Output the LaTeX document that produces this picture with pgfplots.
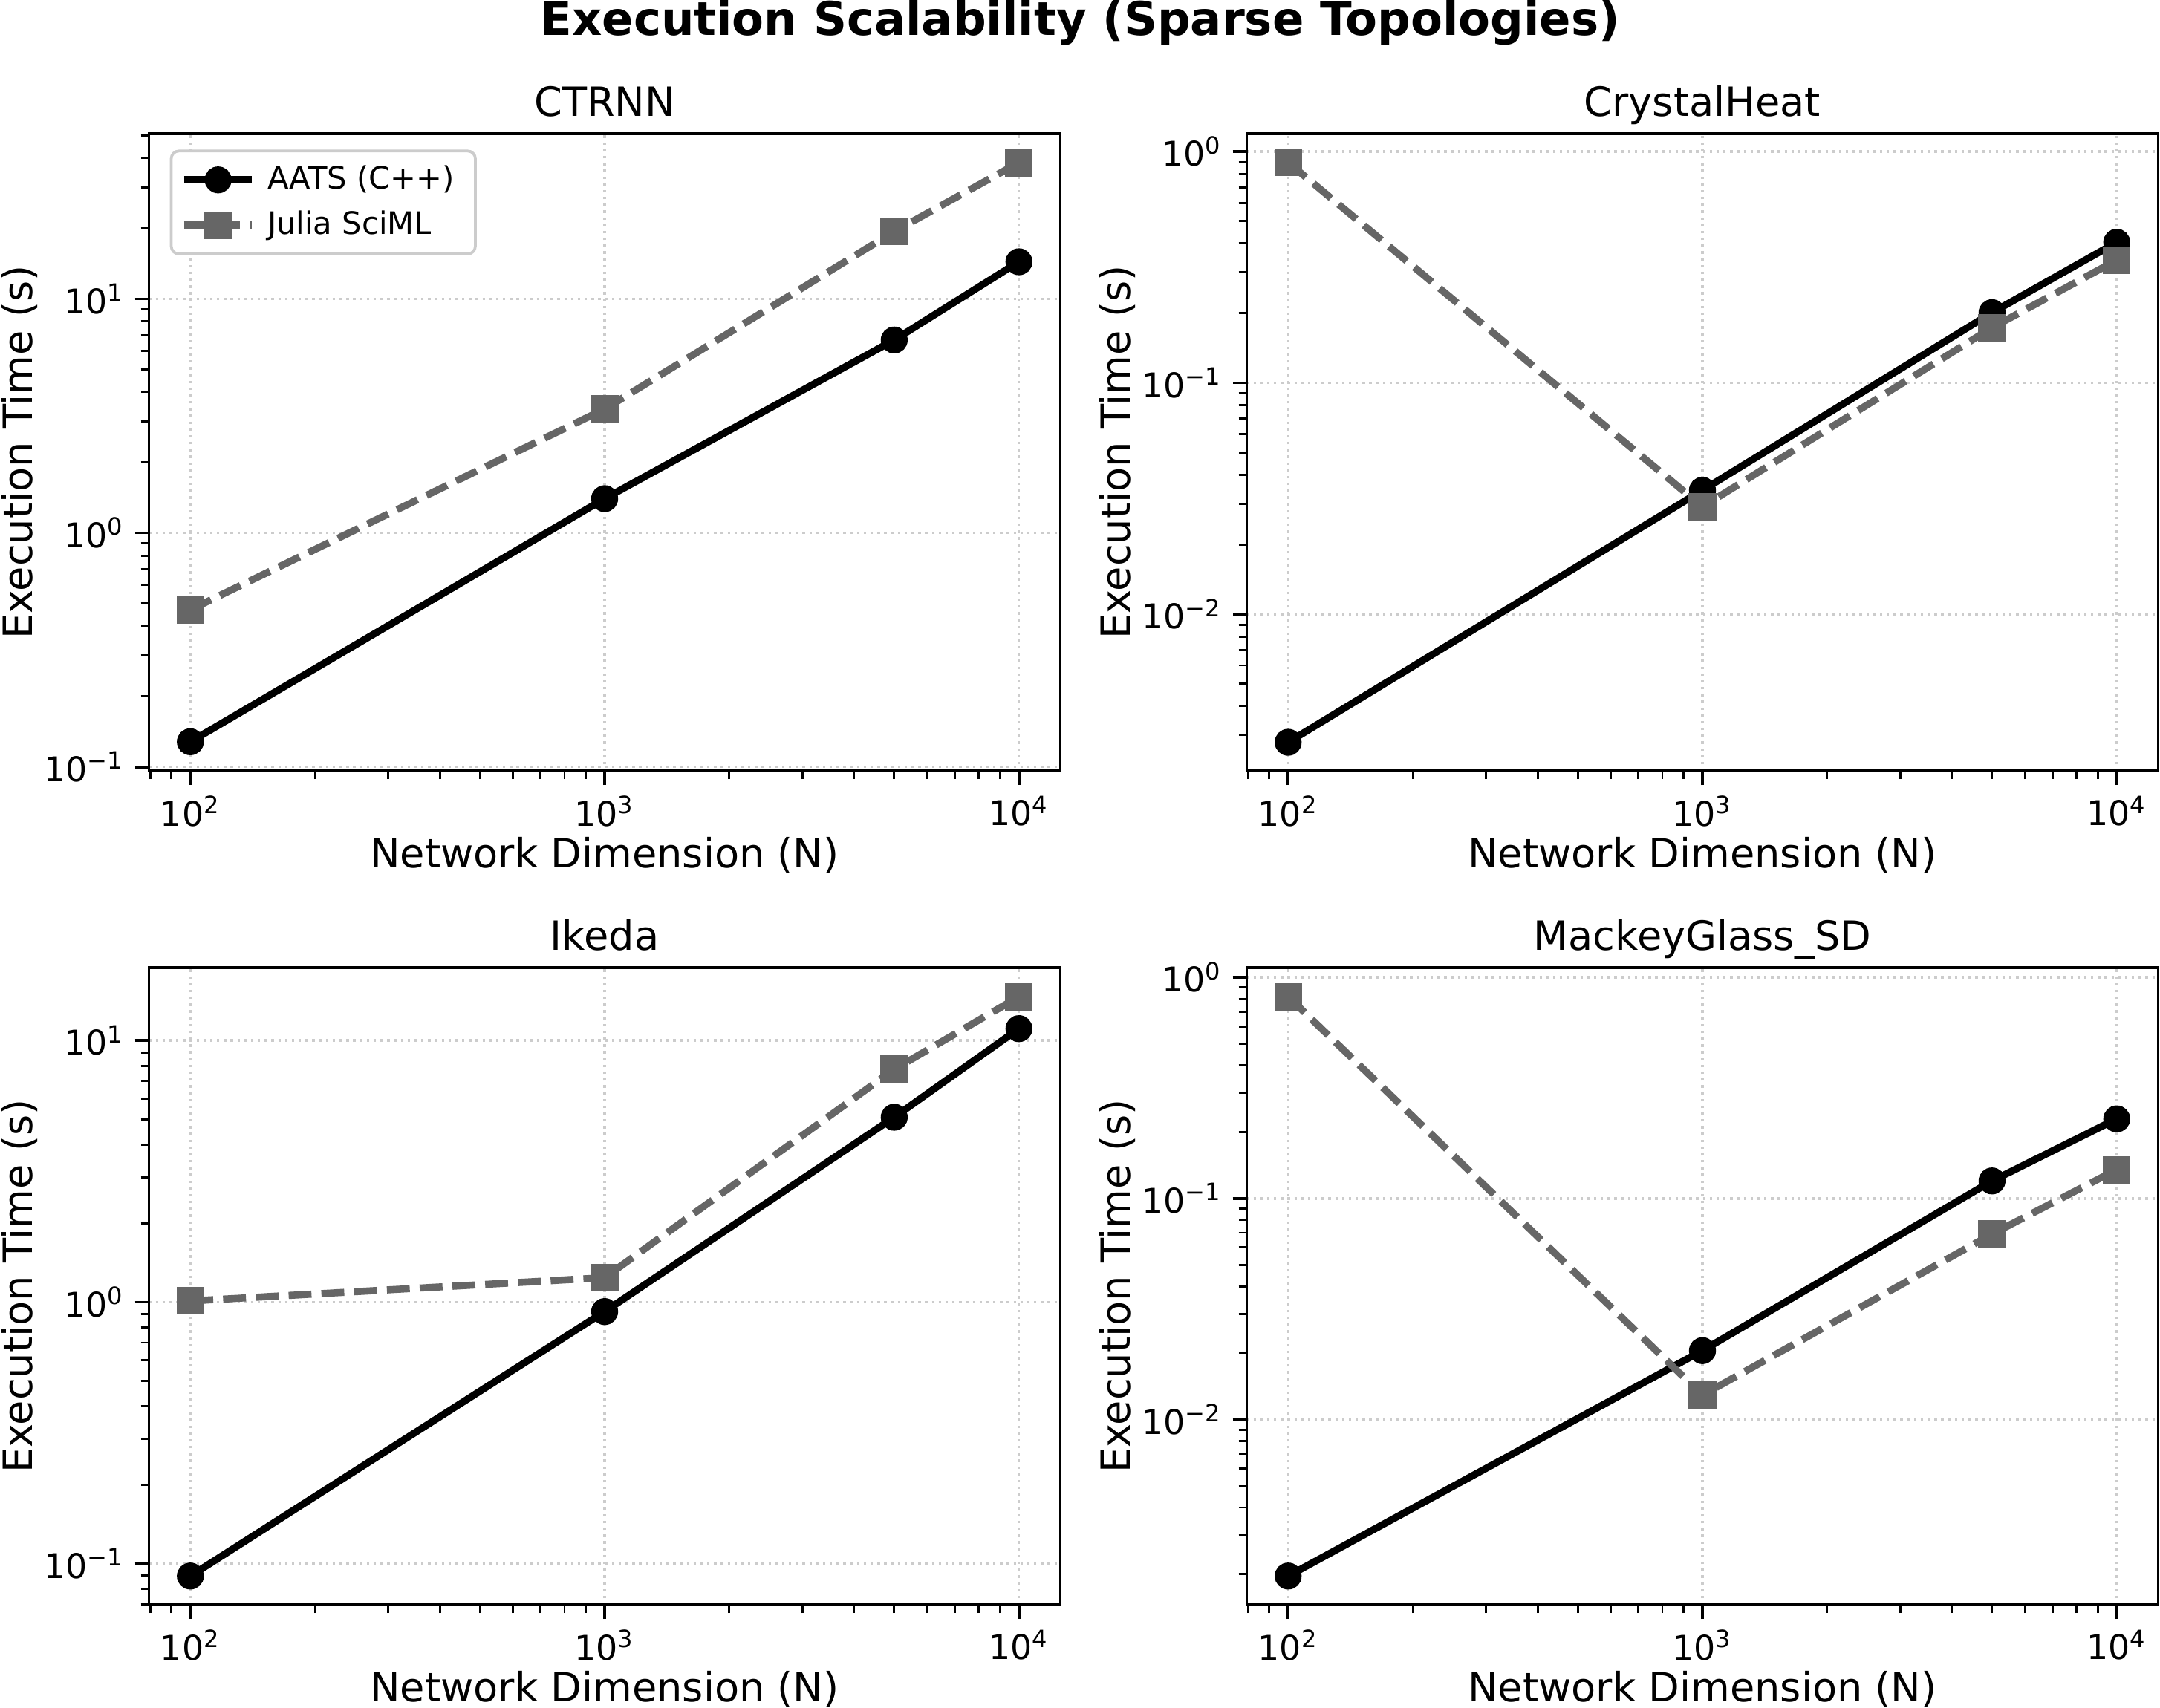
\documentclass[border=0pt]{standalone}
\usepackage{fontspec}
\setmainfont{DejaVu Sans}
\usepackage{pgfplots}
\pgfplotsset{compat=1.18}
\definecolor{jgray}{HTML}{666666}
\pgfplotsset{
  every axis/.append style={
    scale only axis, width=294.5pt, height=206pt,
    xmin=79.43, xmax=12589,
    axis line style={line width=0.9pt},
    tick align=outside, tick pos=left,
    major tick length=4.5pt, minor tick length=2.6pt,
    tick style={black, line width=0.9pt},
    minor tick style={black, line width=0.7pt},
    xtick={100,1000,10000},
    xticklabels={10\textsuperscript{2},10\textsuperscript{3},10\textsuperscript{4}},
    minor xtick={80,90,200,300,400,500,600,700,800,900,2000,3000,4000,5000,6000,7000,8000,9000},
    grid=major, grid style={gray!40, line width=0.8pt, dash pattern=on 0.8pt off 1.4pt},
    ticklabel style={font=\fontsize{11}{13}\selectfont},
    label style={font=\fontsize{13}{15}\selectfont},
    xlabel style={at={(axis description cs:0.5,-0.132)}, anchor=center},
    ylabel style={at={(axis description cs:-0.142,0.5)}, anchor=center},
    title style={font=\fontsize{13}{15}\selectfont, at={(axis description cs:0.5,1)}, anchor=base, yshift=-0.3pt},
  },
}
\begin{document}
\begin{tikzpicture}
\useasboundingbox (0,0) rectangle (697.9pt,551.9pt);
% CTRNN
\begin{loglogaxis}[at={(48.1pt,302.7pt)}, anchor=south west, title={CTRNN},
  xlabel={Network Dimension (N)}, ylabel={Execution Time (s)},
  ymin=0.0959, ymax=50.8,
  ytick={0.1,1,10}, yticklabels={10\textsuperscript{−1},10\textsuperscript{0},10\textsuperscript{1}},
  minor ytick={0.2,0.3,0.4,0.5,0.6,0.7,0.8,0.9,2,3,4,5,6,7,8,9,20,30,40,50},
  legend style={at={(0.023,0.975)}, anchor=north west, draw=gray!40, line width=0.9pt, rounded corners=2.5pt, fill=white, font=\fontsize{10}{12}\selectfont, row sep=1.5pt, inner xsep=3pt, inner ysep=2.8pt,
    nodes={inner xsep=3.8pt}},
  legend image code/.code={\draw[mark repeat=2, mark phase=2] plot coordinates {(0pt,0pt) (11pt,0pt) (22pt,0pt)};},
  legend cell align=left]
\addplot[black, line width=2.3pt, mark=*, mark size=3.2pt] coordinates {(100,0.128) (1000,1.40) (5000,6.67) (10000,14.4)};
\addlegendentry{AATS (C++)}
\addplot[jgray, line width=2.3pt, dash pattern=on 7.4pt off 3.2pt, mark=square*, mark size=3.3pt, mark options={solid}] coordinates {(100,0.469) (1000,3.38) (5000,19.4) (10000,38.2)};
\addlegendentry{Julia SciML}
\end{loglogaxis}
% CrystalHeat
\begin{loglogaxis}[at={(402.8pt,302.7pt)}, anchor=south west, title={CrystalHeat},
  xlabel={Network Dimension (N)}, ylabel={Execution Time (s)},
  ymin=0.002094, ymax=1.194,
  ytick={0.01,0.1,1}, yticklabels={10\textsuperscript{−2},10\textsuperscript{−1},10\textsuperscript{0}},
  minor ytick={0.003,0.004,0.005,0.006,0.007,0.008,0.009,0.02,0.03,0.04,0.05,0.06,0.07,0.08,0.09,0.2,0.3,0.4,0.5,0.6,0.7,0.8,0.9}]
\addplot[black, line width=2.3pt, mark=*, mark size=3.2pt] coordinates {(100,0.00279) (1000,0.0343) (5000,0.201) (10000,0.405)};
\addplot[jgray, line width=2.3pt, dash pattern=on 7.4pt off 3.2pt, mark=square*, mark size=3.3pt, mark options={solid}] coordinates {(100,0.896) (1000,0.0291) (5000,0.173) (10000,0.339)};
\end{loglogaxis}
% Ikeda
\begin{loglogaxis}[at={(48.1pt,33.2pt)}, anchor=south west, title={Ikeda},
  xlabel={Network Dimension (N)}, ylabel={Execution Time (s)},
  ymin=0.0695, ymax=19.0,
  ytick={0.1,1,10}, yticklabels={10\textsuperscript{−1},10\textsuperscript{0},10\textsuperscript{1}},
  minor ytick={0.07,0.08,0.09,0.2,0.3,0.4,0.5,0.6,0.7,0.8,0.9,2,3,4,5,6,7,8,9}]
\addplot[black, line width=2.3pt, mark=*, mark size=3.2pt] coordinates {(100,0.0897) (1000,0.92) (5000,5.09) (10000,11.1)};
\addplot[jgray, line width=2.3pt, dash pattern=on 7.4pt off 3.2pt, mark=square*, mark size=3.3pt, mark options={solid}] coordinates {(100,1.01) (1000,1.24) (5000,7.76) (10000,14.7)};
\end{loglogaxis}
% MackeyGlass_SD
\begin{loglogaxis}[at={(402.8pt,33.2pt)}, anchor=south west, title={MackeyGlass\_SD},
  xlabel={Network Dimension (N)}, ylabel={Execution Time (s)},
  ymin=0.001449, ymax=1.107,
  ytick={0.01,0.1,1}, yticklabels={10\textsuperscript{−2},10\textsuperscript{−1},10\textsuperscript{0}},
  minor ytick={0.002,0.003,0.004,0.005,0.006,0.007,0.008,0.009,0.02,0.03,0.04,0.05,0.06,0.07,0.08,0.09,0.2,0.3,0.4,0.5,0.6,0.7,0.8,0.9}]
\addplot[black, line width=2.3pt, mark=*, mark size=3.2pt] coordinates {(100,0.00196) (1000,0.0205) (5000,0.120) (10000,0.229)};
\addplot[jgray, line width=2.3pt, dash pattern=on 7.4pt off 3.2pt, mark=square*, mark size=3.3pt, mark options={solid}] coordinates {(100,0.818) (1000,0.0129) (5000,0.069) (10000,0.135)};
\end{loglogaxis}
\node[anchor=base, font=\fontsize{15}{18}\selectfont\bfseries] at (349pt,540.4pt) {Execution Scalability (Sparse Topologies)};
\end{tikzpicture}
\end{document}
